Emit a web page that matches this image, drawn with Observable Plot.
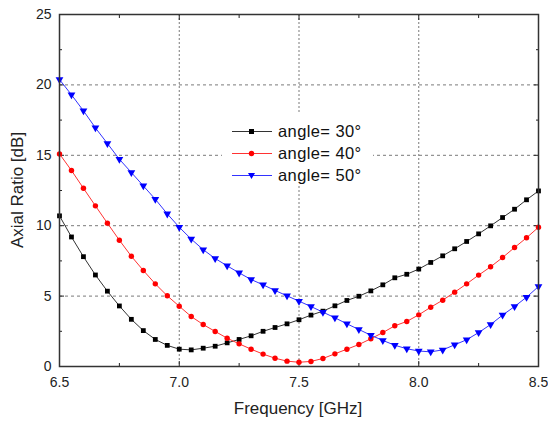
<!DOCTYPE html>
<html><head><meta charset="utf-8">
<script src="https://cdn.jsdelivr.net/npm/d3@7"></script>
<script src="https://cdn.jsdelivr.net/npm/@observablehq/plot@0.6"></script>
<style>
body{margin:0;background:#fff;font-family:Arial,"Liberation Sans",sans-serif;}
#wrap{position:relative;width:548px;height:422px;overflow:hidden;}
#wrap > svg{position:absolute;left:0;top:0;}
.ylab{position:absolute;left:18px;top:190px;transform:translate(-50%,-50%) rotate(-90deg);white-space:nowrap;font-size:17px;color:#222;}
.xlab{position:absolute;left:298px;top:399px;transform:translateX(-50%);white-space:nowrap;font-size:17px;color:#222;}
#legend{position:absolute;left:222px;top:114px;width:151px;height:72px;background:#fff;}
.lrow{position:absolute;left:0;height:22px;display:flex;align-items:center;font-size:16.5px;letter-spacing:0.4px;color:#111;white-space:nowrap;}
.lrow svg{position:static;display:block;margin-left:10px;margin-right:6px;}
</style></head><body><div id="wrap"></div>
<script>
const freq = [6.50,6.55,6.60,6.65,6.70,6.75,6.80,6.85,6.90,6.95,7.00,7.05,7.10,7.15,7.20,7.25,7.30,7.35,7.40,7.45,7.50,7.55,7.60,7.65,7.70,7.75,7.80,7.85,7.90,7.95,8.00,8.05,8.10,8.15,8.20,8.25,8.30,8.35,8.40,8.45,8.50];
const ar30 = [10.7,9.2,7.8,6.5,5.35,4.3,3.35,2.55,1.92,1.5,1.23,1.18,1.3,1.44,1.68,1.92,2.18,2.5,2.77,3.03,3.32,3.65,3.93,4.31,4.69,4.99,5.37,5.8,6.3,6.55,6.92,7.39,7.86,8.36,8.88,9.42,9.99,10.58,11.17,11.84,12.47];
const ar40 = [15.1,13.92,12.66,11.41,10.18,8.97,7.83,6.82,5.87,5.02,4.28,3.55,2.98,2.49,2.01,1.61,1.23,0.88,0.59,0.38,0.3,0.36,0.57,0.9,1.23,1.56,1.97,2.41,2.89,3.2,3.67,4.21,4.71,5.28,5.87,6.49,7.08,7.74,8.45,9.14,9.89];
const ar50 = [20.38,19.3,18.16,16.95,15.84,14.72,13.78,12.83,11.88,10.84,9.89,9.05,8.3,7.67,7.15,6.65,6.18,5.8,5.4,5.02,4.64,4.26,3.86,3.46,3.03,2.63,2.22,1.85,1.51,1.26,1.1,1.04,1.18,1.54,1.9,2.41,2.98,3.65,4.26,4.92,5.68];
const seriesNames = ["angle= 30°","angle= 40°","angle= 50°"];
const markColors = ["#000000","#ff0000","#0000ff"];
const lineColors = ["#333333","#ff3333","#3333ff"];
const symbols = ["square","circle","triangle"];
const symbolRotate = [0,0,180];
const xMajor = [6.5,7.0,7.5,8.0,8.5];
const xMinor = [6.75,7.25,7.75,8.25];
const yMajor = [0,5,10,15,20,25];
const yMinor = [2.5,7.5,12.5,17.5,22.5];
const xGrid = [7.0,7.5,8.0];
const yGrid = [5,10,15,20];

const seriesVals = [ar30, ar40, ar50];
const seriesMarks = [];
seriesVals.forEach((arr,i)=>{
  const rows = arr.map((v,j)=>({f:freq[j], v}));
  seriesMarks.push(Plot.line(rows,{x:"f",y:"v",stroke:lineColors[i],strokeWidth:1}));
  seriesMarks.push(Plot.dot(rows,{x:"f",y:"v",symbol:symbols[i],fill:markColors[i],stroke:"none",r:i===2?2.9:2.7,rotate:symbolRotate[i]}));
});
const noLabel = () => "";
const chart = Plot.plot({
  width:548, height:422, marginLeft:59, marginRight:10, marginTop:14, marginBottom:56,
  style:{fontFamily:"Arial, 'Liberation Sans', sans-serif", fontSize:"14px", color:"#222", background:"transparent"},
  x:{domain:[6.5,8.5]}, y:{domain:[0,25]},
  marks:[
    Plot.gridX(xGrid,{stroke:"#7a7a7a",strokeOpacity:1,strokeDasharray:"2,2"}),
    Plot.gridY(yGrid,{stroke:"#7a7a7a",strokeOpacity:1,strokeDasharray:"3,3"}),
    Plot.axisX(xMajor,{anchor:"bottom",tickSize:-5,tickPadding:16,tickFormat:d3.format(".1f"),label:null,stroke:"#222"}),
    Plot.axisX(xMinor,{anchor:"bottom",tickSize:-3,tickFormat:noLabel,label:null,stroke:"#222"}),
    Plot.axisX(xMajor,{anchor:"top",tickSize:-5,tickFormat:noLabel,label:null,stroke:"#222"}),
    Plot.axisX(xMinor,{anchor:"top",tickSize:-3,tickFormat:noLabel,label:null,stroke:"#222"}),
    Plot.axisY(yMajor,{anchor:"left",tickSize:-5,tickPadding:13,tickFormat:d3.format("d"),label:null,stroke:"#222"}),
    Plot.axisY(yMinor,{anchor:"left",tickSize:-3,tickFormat:noLabel,label:null,stroke:"#222"}),
    Plot.axisY(yMajor,{anchor:"right",tickSize:-5,tickFormat:noLabel,label:null,stroke:"#222"}),
    Plot.axisY(yMinor,{anchor:"right",tickSize:-3,tickFormat:noLabel,label:null,stroke:"#222"}),
    ...seriesMarks,
    Plot.frame({stroke:"#333",strokeWidth:1.5})
  ]
});
const wrap = document.getElementById("wrap");
wrap.appendChild(chart);

const ylab = document.createElement("div"); ylab.className="ylab"; ylab.textContent="Axial Ratio [dB]"; wrap.appendChild(ylab);
const xlab = document.createElement("div"); xlab.className="xlab"; xlab.textContent="Frequency [GHz]"; wrap.appendChild(xlab);

const legend = document.createElement("div"); legend.id="legend";
const symPaths = [
  '<rect x="17" y="8" width="5" height="5" fill="#000"/>',
  '<circle cx="19.5" cy="10.5" r="2.7" fill="#f00"/>',
  '<path d="M16,8 L23,8 L19.5,14 Z" fill="#00f"/>'
];
seriesNames.forEach((name,i)=>{
  const row = document.createElement("div"); row.className="lrow"; row.style.top=(6+i*22)+"px";
  row.innerHTML = `<svg width="40" height="21"><line x1="0" x2="40" y1="10.5" y2="10.5" stroke="${lineColors[i]}" stroke-width="1"/>${symPaths[i]}</svg><span>${name}</span>`;
  legend.appendChild(row);
});
wrap.appendChild(legend);
</script></body></html>
